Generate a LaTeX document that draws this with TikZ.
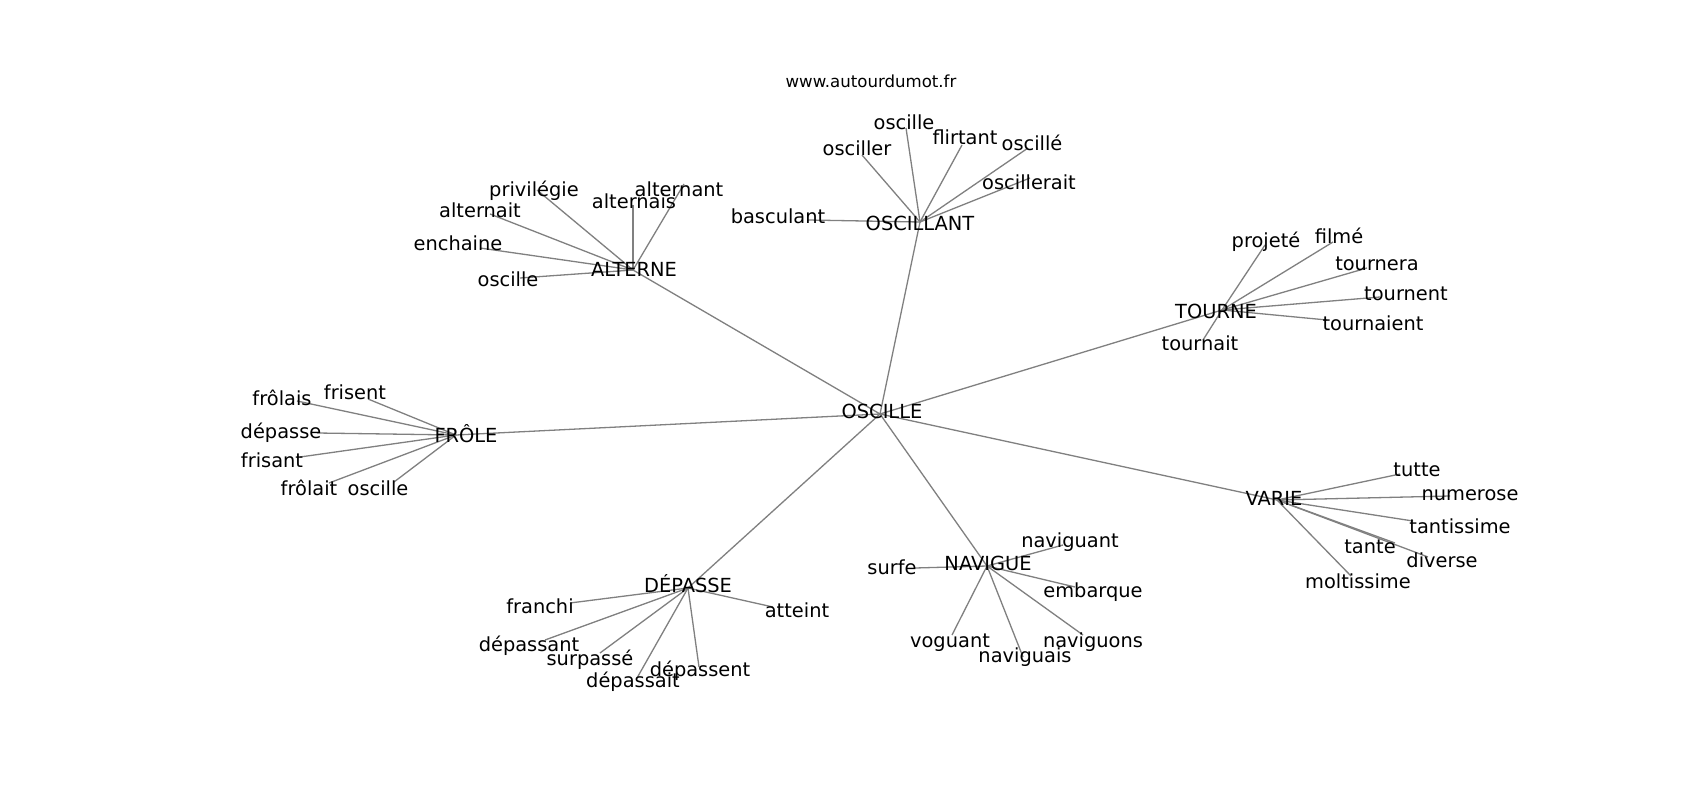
\documentclass[tikz,border=0pt]{standalone}
\usepackage{fontspec}
\setmainfont{DejaVu Sans}
\pgfdeclarelayer{back}
\pgfdeclarelayer{bg}
\pgfsetlayers{back,bg,main}
\tikzset{
  edge/.style={draw=black!50, line width=1.3pt},
  lbl/.style={inner sep=0pt, anchor=base, text=black, font=\fontsize{19.4}{23}\selectfont},
  wwwlbl/.style={inner sep=0pt, anchor=base, text=black, font=\fontsize{16.6}{20}\selectfont},
}
\newcommand\myhub[4]{% name, point, text pos, text
  \coordinate (#1) at (#2);
  \node[lbl] (#1-t) at (#3) {#4};}
\newcommand\myleaf[5]{% hub, id, endpoint, text pos, text
  \coordinate (#2) at (#3);
  \begin{pgfonlayer}{bg}\draw[edge] (#1) -- (#2);\end{pgfonlayer}
  \node[lbl] (#2-t) at (#4) {#5};}
\begin{document}
\begin{tikzpicture}[x=1pt, y=-1pt]
\useasboundingbox (0,0) rectangle (1700,800);
\begin{pgfonlayer}{back}
\fill[white] (0,0) rectangle (1700,800);
\end{pgfonlayer}

\node[wwwlbl] (www) at (871,88) {www.autourdumot.fr};

% hubs
\myhub{osc}{880,414}{882,418}{OSCILLE}
\myhub{alt}{633,270}{634,276}{ALTERNE}
\myhub{oscl}{920,222}{920,230}{OSCILLANT}
\myhub{tou}{1222,310}{1216,318}{TOURNE}
\myhub{fro}{456,435}{466,442}{FRÔLE}
\myhub{var}{1277,500}{1274,505}{VARIE}
\myhub{dep}{688,588}{688,592}{DÉPASSE}
\myhub{nav}{987,566}{988,570}{NAVIGUE}

\begin{pgfonlayer}{bg}
\draw[edge] (osc) -- (alt);
\draw[edge] (osc) -- (oscl);
\draw[edge] (osc) -- (tou);
\draw[edge] (osc) -- (fro);
\draw[edge] (osc) -- (var);
\draw[edge] (osc) -- (dep);
\draw[edge] (osc) -- (nav);
\end{pgfonlayer}

% ALTERNE
\myleaf{alt}{a1}{537,190}{534,196}{privilégie}
\myleaf{alt}{a2}{490,214}{480,217}{alternait}
\myleaf{alt}{a3}{480,248}{458,250}{enchaine}
\myleaf{alt}{a4}{520,278}{508,286}{oscille}
\myleaf{alt}{a5}{633,205}{634,208}{alternais}
\myleaf{alt}{a6}{684,184}{679,196}{alternant}

% OSCILLANT
\myleaf{oscl}{b1}{906,128}{904,129}{oscille}
\myleaf{oscl}{b2}{962,145}{965,144}{flirtant}
\myleaf{oscl}{b3}{1028,148}{1032,150}{oscillé}
\myleaf{oscl}{b4}{1030,178}{1029,189}{oscillerait}
\myleaf{oscl}{b5}{862,155}{857,155}{osciller}
\myleaf{oscl}{b6}{808,220}{778,223}{basculant}

% TOURNE
\myleaf{tou}{c1}{1265,245}{1266,247}{projeté}
\myleaf{tou}{c2}{1333,242}{1339,243}{filmé}
\myleaf{tou}{c3}{1367,268}{1377,270}{tournera}
\myleaf{tou}{c4}{1380,297}{1406,300}{tournent}
\myleaf{tou}{c5}{1327,320}{1373,330}{tournaient}
\myleaf{tou}{c6}{1203,340}{1200,350}{tournait}

% FROLE
\myleaf{fro}{d1}{297,401}{282,405}{frôlais}
\myleaf{fro}{d2}{368,399}{355,399}{frisent}
\myleaf{fro}{d3}{317,433}{281,438}{dépasse}
\myleaf{fro}{d4}{300,457}{272,467}{frisant}
\myleaf{fro}{d5}{329,483}{309,495}{frôlait}
\myleaf{fro}{d6}{394,482}{378,495}{oscille}

% VARIE
\myleaf{var}{e1}{1400,474}{1417,476}{tutte}
\myleaf{var}{e2}{1450,496}{1470,500}{numerose}
\myleaf{var}{e3}{1413,521}{1460,533}{tantissime}
\myleaf{var}{e4}{1395,543}{1370,553}{tante}
\myleaf{var}{e5}{1428,557}{1442,567}{diverse}
\myleaf{var}{e6}{1351,576}{1358,588}{moltissime}

% DEPASSE
\myleaf{dep}{f1}{570,603}{540,613}{franchi}
\myleaf{dep}{f2}{545,640}{529,651}{dépassant}
\myleaf{dep}{f3}{600,653}{590,665}{surpassé}
\myleaf{dep}{f4}{637,678}{633,687}{dépassait}
\myleaf{dep}{f5}{699,667}{700,676}{dépassent}
\myleaf{dep}{f6}{773,607}{797,617}{atteint}

% NAVIGUE
\myleaf{nav}{g1}{915,568}{892,574}{surfe}
\myleaf{nav}{g2}{1063,545}{1070,547}{naviguant}
\myleaf{nav}{g3}{1075,587}{1093,597}{embarque}
\myleaf{nav}{g4}{1083,635}{1093,647}{naviguons}
\myleaf{nav}{g5}{952,635}{950,647}{voguant}
\myleaf{nav}{g6}{1023,657}{1025,662}{naviguais}
\end{tikzpicture}
\end{document}
